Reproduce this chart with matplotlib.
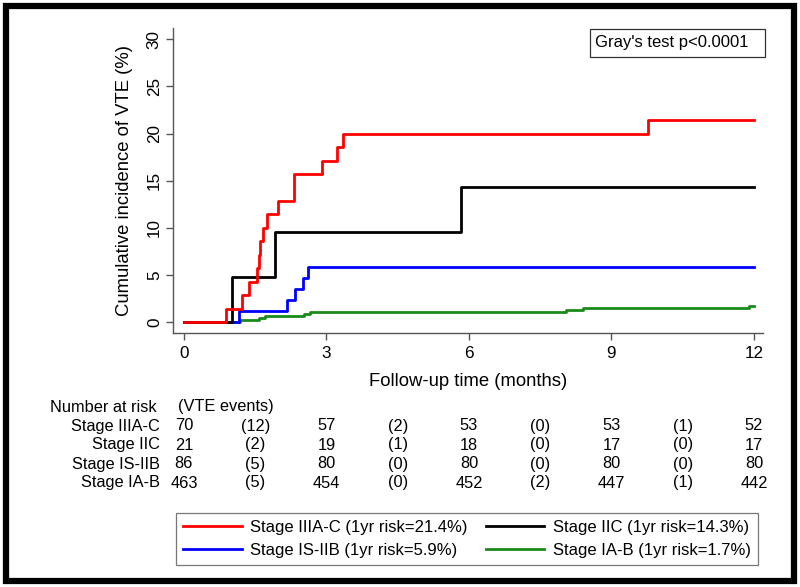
import matplotlib
matplotlib.use("Agg")
import matplotlib.pyplot as plt
from matplotlib.patches import Rectangle
from matplotlib.lines import Line2D
from matplotlib.transforms import blended_transform_factory

plt.rcParams['font.family'] = ['Liberation Sans', 'DejaVu Sans']

# cumulative incidence step curves (months, %)
red_t = [0, 0.88, 1.22, 1.37, 1.53, 1.57, 1.60, 1.66, 1.74, 1.97, 2.31, 2.90, 3.22, 3.35, 9.76, 12.0]
red_y = [0, 1.43, 2.86, 4.29, 5.71, 7.14, 8.57, 10.0, 11.43, 12.86, 15.71, 17.14, 18.57, 20.0, 21.43, 21.43]
black_t = [0, 1.01, 1.91, 5.84, 12.0]
black_y = [0, 4.76, 9.52, 14.29, 14.29]
blue_t = [0, 1.15, 2.17, 2.33, 2.50, 2.62, 12.0]
blue_y = [0, 1.18, 2.36, 3.54, 4.72, 5.90, 5.90]
green_t = [0, 1.18, 1.57, 1.71, 2.52, 2.66, 8.05, 8.40, 11.90, 12.0]
green_y = [0, 0.22, 0.43, 0.65, 0.86, 1.08, 1.30, 1.51, 1.73, 1.73]

groups = ["Stage IIIA-C", "Stage IIC", "Stage IS-IIB", "Stage IA-B"]
legend_labels = ["Stage IIIA-C (1yr risk=21.4%)", "Stage IIC (1yr risk=14.3%)",
                 "Stage IS-IIB (1yr risk=5.9%)", "Stage IA-B (1yr risk=1.7%)"]
colors = ["#ff0000", "#000000", "#0000ff", "#1a8a1a"]

# risk table
risk_times = [0, 3, 6, 9, 12]
event_times = [1.5, 4.5, 7.5, 10.5]
at_risk = [[70, 57, 53, 53, 52],
           [21, 19, 18, 17, 17],
           [86, 80, 80, 80, 80],
           [463, 454, 452, 447, 442]]
events = [[12, 2, 0, 1],
          [2, 1, 0, 0],
          [5, 0, 0, 0],
          [5, 0, 2, 1]]

W, H = 800, 587
fig = plt.figure(figsize=(8, 5.87), dpi=100)
ax = fig.add_axes([173 / W, 1 - 333.3 / H, 590 / W, 305.3 / H])

lw = 2.0
ax.step(green_t, green_y, where='post', color=colors[3], lw=lw)
ax.step(blue_t, blue_y, where='post', color=colors[2], lw=lw)
ax.step(black_t, black_y, where='post', color=colors[1], lw=lw)
ax.step(red_t, red_y, where='post', color=colors[0], lw=lw)

ax.set_xlim(-0.23, 12.19)
ax.set_ylim(-1.17, 31.2)
ax.set_xticks([0, 3, 6, 9, 12])
ax.set_yticks([0, 5, 10, 15, 20, 25, 30])
ax.spines['top'].set_visible(False)
ax.spines['right'].set_visible(False)
for s in ['left', 'bottom']:
    ax.spines[s].set_color('#555555')
    ax.spines[s].set_linewidth(1.0)
ax.tick_params(direction='out', length=5, width=1.0, color='#555555', labelsize=12.3)
ax.tick_params(axis='x', pad=4)
ax.tick_params(axis='y', pad=3)
for lab in ax.get_yticklabels():
    lab.set_rotation(90)
    lab.set_va('center')

ax.set_xlabel("Follow-up time (months)", fontsize=13.3)
ax.xaxis.set_label_coords(0.5, -0.13)
ax.set_ylabel("Cumulative incidence of VTE (%)", fontsize=13.3)
ax.yaxis.set_label_coords(-0.068, 0.5)

# Gray's test box
ax.add_patch(Rectangle((0.707, 0.905), 0.296, 0.092, transform=ax.transAxes,
                       fill=False, edgecolor='#333333', lw=0.9, clip_on=False))
ax.text(0.845, 0.951, "Gray's test p<0.0001", transform=ax.transAxes,
        ha='center', va='center', fontsize=12)

# number at risk table
tr = blended_transform_factory(ax.transData, fig.transFigure)
row_y = [1 - 426 / H, 1 - 445 / H, 1 - 464 / H, 1 - 483 / H]
fs = 11.8
fig.text(50 / W, 1 - 407 / H, "Number at risk", ha='left', va='center', fontsize=fs)
fig.text(178 / W, 1 - 407 / H, "(VTE events)", ha='left', va='center', fontsize=fs)
for i, g in enumerate(groups):
    fig.text(160 / W, row_y[i], g, ha='right', va='center', fontsize=fs)
    for t, n in zip(risk_times, at_risk[i]):
        ax.text(t, row_y[i], str(n), transform=tr, ha='center', va='center', fontsize=fs)
    for t, e in zip(event_times, events[i]):
        ax.text(t, row_y[i], "(" + str(e) + ")", transform=tr, ha='center', va='center', fontsize=fs)

# legend (row-major like the original: red, black / blue, green)
handles = [Line2D([], [], color=c, lw=lw) for c in colors]
order = [0, 2, 1, 3]
leg = fig.legend([handles[k] for k in order], [legend_labels[k] for k in order],
                 ncol=2, loc='center', bbox_to_anchor=(467 / W, 1 - 539 / H),
                 fontsize=12, frameon=True, fancybox=False, handlelength=3.5,
                 columnspacing=1.1, handletextpad=0.5, borderpad=0.45, labelspacing=0.45,
                 borderaxespad=0)
leg.get_frame().set_edgecolor('#555555')
leg.get_frame().set_linewidth(0.9)

# thick outer frame
fig.add_artist(Rectangle((6 / W, 6 / H), 788 / W, 575 / H, transform=fig.transFigure,
                         fill=False, edgecolor='black', lw=4.5))

fig.savefig("out.png", dpi=100)
